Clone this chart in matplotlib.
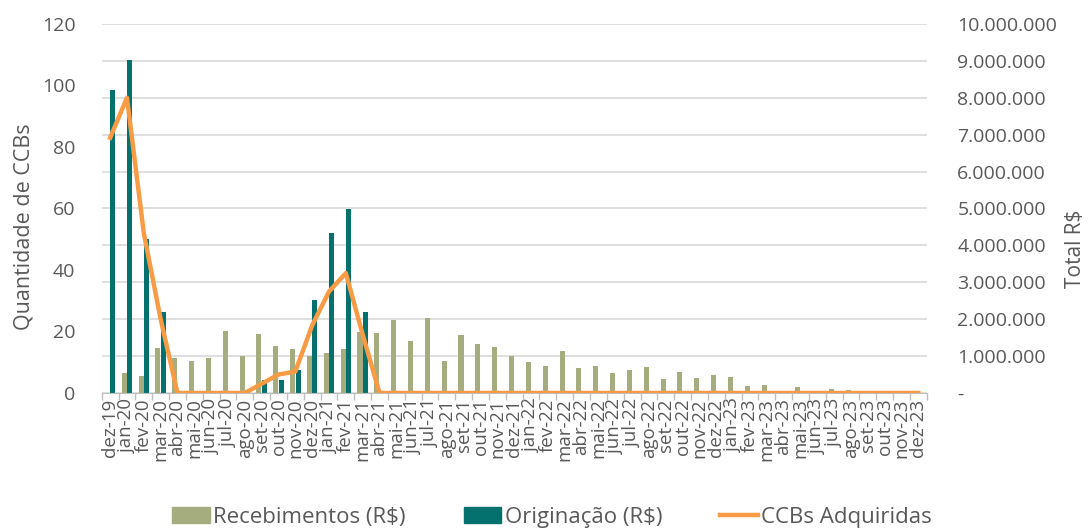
import numpy as np
import matplotlib
matplotlib.use("Agg")
import matplotlib.pyplot as plt
from matplotlib.lines import Line2D
from matplotlib.patches import Patch
from matplotlib.ticker import FuncFormatter, MultipleLocator

plt.rcParams['font.family'] = ['Open Sans', 'DejaVu Sans']

meses = ['jan', 'fev', 'mar', 'abr', 'mai', 'jun', 'jul', 'ago', 'set', 'out', 'nov', 'dez']
labels = ['dez-19'] + [f'{m}-{a}' for a in ['20', '21', '22', '23'] for m in meses]

# Recebimentos (R$)
recebimentos = [
    0, 530000, 460000, 1230000, 960000, 880000, 960000, 1680000, 990000, 1610000, 1280000, 1180000, 990000,
    1080000, 1200000, 1650000, 1630000, 1980000, 1420000, 2020000, 880000, 1570000, 1330000, 1260000, 1000000,
    850000, 730000, 1150000, 670000, 730000, 530000, 620000, 700000, 370000, 580000, 400000, 480000,
    430000, 200000, 230000, 0, 150000, 0, 110000, 80000, 0, 0, 0, 0,
]
# Originação (R$)
originacao = [
    8210000, 9020000, 4180000, 2200000, 0, 0, 0, 0, 0, 350000, 350000, 620000, 2520000,
    4330000, 4990000, 2200000, 0, 0, 0, 0, 0, 0, 0, 0, 0,
    0, 0, 0, 0, 0, 0, 0, 0, 0, 0, 0, 0,
    0, 0, 0, 0, 0, 0, 0, 0, 0, 0, 0, 0,
]
# CCBs Adquiridas (quantidade)
ccbs = [
    83, 96, 52, 24, 0, 0, 0, 0, 0, 3, 6, 7, 22,
    33, 39, 19, 0, 0, 0, 0, 0, 0, 0, 0, 0,
    0, 0, 0, 0, 0, 0, 0, 0, 0, 0, 0, 0,
    0, 0, 0, 0, 0, 0, 0, 0, 0, 0, 0, 0,
]

c_olive = '#A5AD7E'
c_teal = '#04716F'
c_orange = '#F99B45'
c_text = '#595959'
c_grid = '#D9D9D9'

x = np.arange(len(labels))

fig = plt.figure(figsize=(10.89, 5.31), dpi=100)
ax = fig.add_axes([0.0934, 0.2599, 0.7576, 0.6949])
ax2 = ax.twinx()  # line on top of the bars

# bars on the money scale (right side)
ax.bar(x - 0.16, recebimentos, width=0.3, color=c_olive, zorder=2)
ax.bar(x + 0.16, originacao, width=0.3, color=c_teal, zorder=2)
ax.set_ylim(0, 10_000_000)
ax.set_xlim(-0.5, len(labels) - 0.5)
ax.yaxis.set_major_locator(MultipleLocator(1_000_000))
ax.yaxis.tick_right()
ax.yaxis.set_label_position('right')
ax.yaxis.set_major_formatter(FuncFormatter(lambda v, p: '-' if v == 0 else f'{v:,.0f}'.replace(',', '.')))
ax.tick_params(axis='y', length=0, pad=22, labelsize=14, labelcolor=c_text)
ax.grid(axis='y', color=c_grid, linewidth=1.2, zorder=0)
ax.set_axisbelow(True)
ax.set_ylabel('Total R$', fontsize=15, color=c_text, rotation=90)
ax.yaxis.set_label_coords(1.168, 0.39)

ax.set_xticks(x)
ax.set_xticklabels(labels, rotation=90, fontsize=13.5, color=c_text)
ax.set_xticks(np.arange(-0.5, len(labels), 1), minor=True)
ax.tick_params(axis='x', which='major', length=0, pad=4)
ax.tick_params(axis='x', which='minor', length=5, color='#BFBFBF', width=1)

for s in ['top', 'left', 'right']:
    ax.spines[s].set_visible(False)
ax.spines['bottom'].set_color('#BFBFBF')

# line on the count scale (left side)
ax2.plot(x, ccbs, color=c_orange, linewidth=3.2, solid_joinstyle='round', zorder=3)
ax2.set_ylim(0, 120)
ax2.yaxis.set_major_locator(MultipleLocator(20))
ax2.yaxis.tick_left()
ax2.yaxis.set_label_position('left')
ax2.tick_params(axis='y', length=0, pad=19, labelsize=14, labelcolor=c_text)
ax2.set_ylabel('Quantidade de CCBs', fontsize=15.5, color=c_text)
ax2.yaxis.set_label_coords(-0.082, 0.45)
for s in ax2.spines.values():
    s.set_visible(False)

handles = [
    Patch(color=c_olive, label='Recebimentos (R$)'),
    Patch(color=c_teal, label='Originação (R$)'),
    Line2D([0], [0], color=c_orange, linewidth=3.2, label='CCBs Adquiridas'),
]
fig.legend(handles=handles, loc='center', bbox_to_anchor=(0.507, 0.026), ncol=3, frameon=False,
           fontsize=16, labelcolor=c_text, handlelength=1.7, handletextpad=0.15, columnspacing=2.6)

fig.savefig('out.png', dpi=100)
